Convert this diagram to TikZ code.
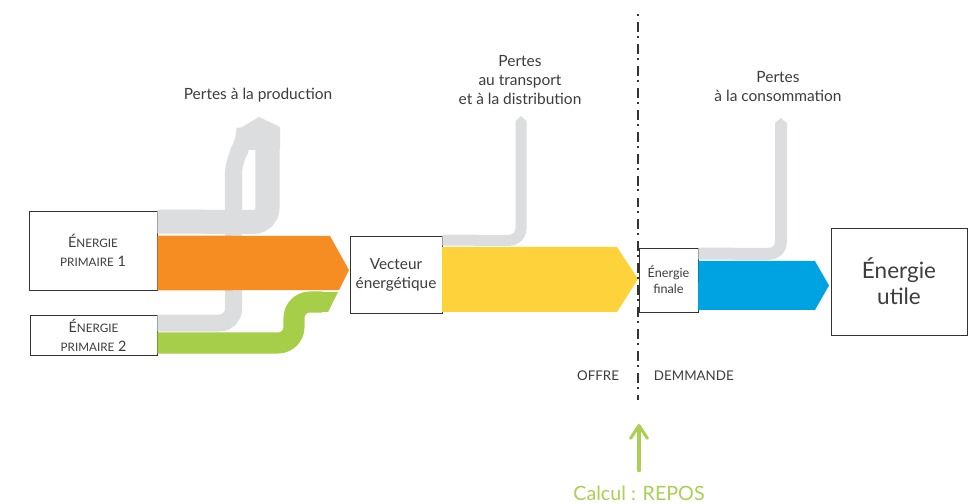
\documentclass[tikz,border=0pt]{standalone}
\usepackage{fontspec}
\setmainfont{Lato}
\usepackage{xcolor}
\usepackage{tikz}
\usetikzlibrary{arrows.meta,calc}

\definecolor{txt}{HTML}{3D3D3D}
\definecolor{boxline}{HTML}{333333}
\definecolor{lossgray}{HTML}{DCDDDF}
\definecolor{prim1}{HTML}{F68D22}
\definecolor{prim2}{HTML}{A6CE48}
\definecolor{vecteur}{HTML}{FED23A}
\definecolor{finale}{HTML}{00A3E1}
\definecolor{repos}{HTML}{A9CF55}

\newcommand\petitcap[1]{{\fontsize{8.3}{9}\selectfont #1}}

\begin{document}
\begin{tikzpicture}[x=0.025cm, y=-0.025cm,
    box/.style={draw=boxline, line width=0.6pt, fill=white, inner sep=0pt, align=center, text=txt},
    loss/.style={draw=lossgray, line cap=butt, rounded corners=0.35cm},
    lbl/.style={text=txt, align=center, font=\fontsize{11}{13.2}\selectfont}]
    \useasboundingbox (0,0) rectangle (969,504);

    % boxes
    \node[box, minimum width=3.2cm, minimum height=1.975cm, font=\fontsize{10.2}{13.5}\selectfont] (ep1) at (93,250.5) {É\petitcap{NERGIE}\\\petitcap{PRIMAIRE} 1};
    \node[box, minimum width=3.175cm, minimum height=1cm, font=\fontsize{10.2}{13.5}\selectfont] (ep2) at (93.5,335) {É\petitcap{NERGIE}\\\petitcap{PRIMAIRE} 2};
    \node[box, minimum width=2.3cm, minimum height=1.925cm, font=\fontsize{10.9}{13.5}\selectfont] (vect) at (396,274.5) {Vecteur\\énergétique};
    \node[box, minimum width=3.4cm, minimum height=2.675cm, font=\fontsize{16}{18.5}\selectfont] (utile) at (899,281.5) {Énergie\\utile};

    % pertes a la production
    \draw[loss, line width=0.425cm] (ep2.north east) ++(0,8.5) -- (233.5,323) -- (233.5,160) -- (245,142) -- (245,130);
    \draw[loss, line width=0.6cm] (ep1.north east) ++(0,11) -- (267.5,222) -- (267.5,130);
    \fill[lossgray] (237,150) -- (237,130) -- (259,117) -- (280,127) -- (280,150) -- cycle;

    % flux primaires
    \draw[prim2, line width=0.525cm, rounded corners=0.4cm] (ep2.east) ++(0,8) -- (294,343) -- (294,302) -- (322,302);
    \fill[prim2] (320,292) -- (338,292) -- (328,312) -- (320,312) -- cycle;
    \fill[prim1] (ep1.south east) -- ($(ep1.north east)+(0,25)$) -- (330,236) -- (349,270) -- (339,290) -- cycle;

    % transport
    \draw[loss, line width=0.275cm, rounded corners=0.3cm] (vect.north east) ++(0,4.5) -- (521,240.5) -- (521,124);
    \fill[lossgray] (515.5,125) -- (515.5,121) -- (521,116) -- (526.5,121) -- (526.5,125) -- cycle;
    \fill[vecteur] (442,247) -- (617,247) -- (638,279) -- (617,312) -- (442,312) -- cycle;

    % offre / demande
    \draw[boxline, line width=1.4pt, dash pattern=on 7.1pt off 2.8pt on 1.4pt off 4.3pt, dash phase=9.9pt] (638,14) coordinate (top) -- (638,400) coordinate (bas);
    \node[box, minimum width=1.475cm, minimum height=1.6cm, font=\fontsize{9}{11.4}\selectfont] (fin) at (668.5,280) {Énergie\\finale};

    % consommation
    \draw[loss, line width=0.3cm, rounded corners=0.3cm] (fin.north east) ++(0,6) -- (781,254) -- (781,124);
    \fill[lossgray] (775,125) -- (775,123) -- (781,118) -- (787,123) -- (787,125) -- cycle;
    \fill[finale] (fin.east) ++(0,-19) -- (815,261) -- (829,285.5) -- (815,310) -- (698,310) -- cycle;

    % labels
    \node[lbl] (pprod) at (258,95) {Pertes à la production};
    \node[lbl] (ptrans) at (520,80) {Pertes\\au transport\\et à la distribution};
    \node[lbl] (pcons) at (778,86.5) {Pertes\\à la consommation};
    \node[lbl, anchor=east, font=\fontsize{9.5}{12}\selectfont] (offre) at (624,376) {OFFRE};
    \node[lbl, anchor=west, font=\fontsize{9.5}{12}\selectfont] (demande) at (649,376) {DEMMANDE};

    % calcul
    \node[text=repos, font=\fontsize{14}{16}\selectfont] (calc) at (639,493) {Calcul : REPOS};
    \draw[repos, line width=2.2pt, line cap=round, -{Straight Barb[length=3.2mm, width=4.2mm, round]}] (calc.north) ++(0,-10) -- (639,424);
\end{tikzpicture}
\end{document}
